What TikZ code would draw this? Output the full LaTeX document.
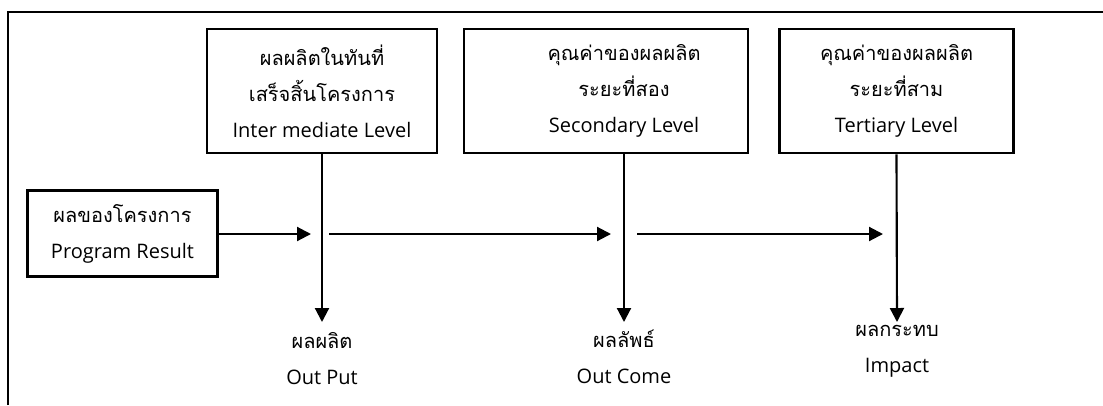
\documentclass[tikz,border=0pt]{standalone}
\usepackage{fontspec}
\setmainfont{Open Sans}
\newfontfamily\thaifont[Script=Thai, Scale=1.0]{Loma}
\usetikzlibrary{arrows.meta}

\begin{document}
\begin{tikzpicture}[x=0.75pt, y=-0.75pt,
    box/.style={draw, line width=2.1pt, inner sep=0pt, align=center, font=\fontsize{15}{27}\selectfont},
    txt/.style={inner sep=0pt, align=center, font=\fontsize{15}{27}\selectfont},
    pfeil/.style={line width=1.6pt, -{Triangle[length=10.5pt, width=10.5pt]}}]

    \useasboundingbox (0,0) rectangle (1103,405);
    % Rahmen
    \draw[line width=2.1pt] (8,405) -- (8,12) -- (1103,12);

    \node[box, minimum width=143pt, minimum height=65pt] (result) at (122.5,233.5) {{\thaifont ผลของโครงการ}\\Program Result};
    \node[box, minimum width=172.5pt, minimum height=93pt] (inter) at (322,91) {{\thaifont ผลผลิตในทันที่}\\{\thaifont เสร็จสิ้นโครงการ}\\Inter mediate Level};
    \node[box, minimum width=213pt, minimum height=93pt] (second) at (606,91) {};
    \node[txt] (secondtxt) at (624,91) {{\thaifont คุณค่าของผลผลิต}\\{\thaifont ระยะที่สอง}\\Secondary Level};
    \node[box, minimum width=176pt, minimum height=93pt] (tert) at (896.5,91) {{\thaifont คุณค่าของผลผลิต}\\{\thaifont ระยะที่สาม}\\Tertiary Level};

    \coordinate (a1e) at (311,234);
    \coordinate (a2s) at (329,234);
    \coordinate (a2e) at (611,234);
    \coordinate (a3s) at (637,234);
    \coordinate (a3e) at (883,234);
    \coordinate (d1) at (322,322);
    \coordinate (d2) at (624,322);
    \coordinate (d3) at (897,322);

    \draw[pfeil] (result.east |- a1e) -- (a1e);
    \draw[pfeil] (a2s) -- (a2e);
    \draw[pfeil] (a3s) -- (a3e);
    \draw[pfeil] (inter.south) -- (d1);
    \draw[pfeil] (secondtxt |- second.south) -- (d2);
    \draw[pfeil] (tert.south) -- (d3);

    \node[txt] (output) at (322,359) {{\thaifont ผลผลิต}\\Out Put};
    \node[txt] (outcome) at (624,357) {{\thaifont ผลลัพธ์}\\Out Come};
    \node[txt] (impact) at (897,351) {{\thaifont ผลกระทบ}\\Impact};

\end{tikzpicture}
\end{document}
